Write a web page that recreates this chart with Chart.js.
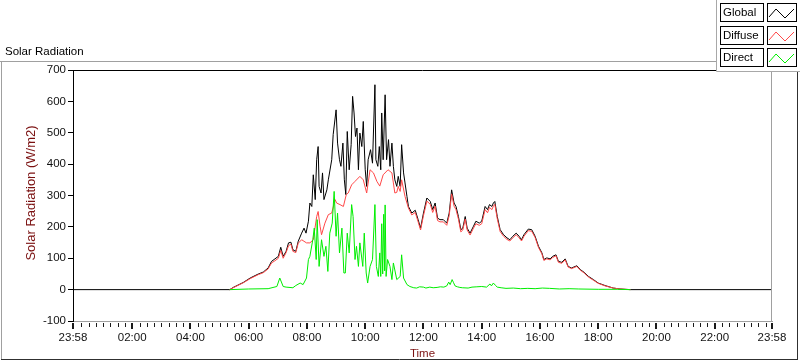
<!DOCTYPE html>
<html>
<head>
<meta charset="utf-8">
<script src="https://cdn.jsdelivr.net/npm/chart.js@4/dist/chart.umd.min.js"></script>
<style>
  body { margin: 0; background: #fff; }
  #wrap { position: relative; width: 800px; height: 361px; }
</style>
</head>
<body>
<div id="wrap"><canvas id="chart" width="800" height="361"></canvas></div>
<script>
// ── data: minutes after midnight, W/m2 ──
const seriesLabels = ['Global', 'Diffuse', 'Direct'];
const seriesColors = ['#000000', '#ff4848', '#00ee00'];

const globalTimes = [-2, 321, 328, 349, 363, 380, 390, 400, 407, 414, 421, 426, 431, 437, 442, 447, 451, 457, 462, 469,
  474, 478, 483, 486, 490, 493, 497, 500, 503, 505, 509, 512, 515, 521, 524, 531, 534, 538, 540, 543,
  547, 550, 554, 557, 560, 563, 567, 571, 574, 577, 580, 583, 586, 589, 593, 596, 600, 603, 606, 611,
  615, 620, 622, 626, 629, 632, 634, 637, 641, 644, 648, 651, 655, 658, 661, 665, 668, 672, 675, 679,
  682, 686, 689, 696, 703, 709, 714, 720, 727, 734, 739, 744, 749, 754, 761, 768, 773, 778, 783, 787,
  792, 797, 801, 806, 810, 816, 823, 828, 835, 840, 847, 852, 856, 861, 864, 867, 872, 878, 885, 892,
  898, 904, 911, 917, 922, 927, 936, 943, 950, 957, 964, 968, 974, 981, 986, 993, 998, 1005, 1012, 1018,
  1025, 1036, 1043, 1051, 1060, 1070, 1080, 1094, 1111, 1125, 1146, 1438];
const globalValues = [0, 0, 7, 23, 37, 50, 56, 69, 90, 98, 106, 135, 106, 122, 149, 151, 127, 122, 154, 180,
  196, 180, 218, 276, 265, 366, 287, 414, 456, 329, 308, 372, 287, 318, 350, 414, 494, 547, 573, 467,
  414, 393, 467, 350, 303, 504, 382, 462, 616, 563, 488, 515, 382, 499, 456, 536, 382, 329, 414, 446,
  403, 653, 414, 393, 456, 382, 563, 414, 621, 414, 478, 393, 467, 393, 350, 329, 361, 329, 462, 372,
  340, 297, 265, 244, 253, 223, 196, 244, 292, 281, 255, 276, 228, 223, 223, 212, 244, 318, 276, 265,
  233, 191, 196, 233, 196, 180, 202, 218, 212, 218, 265, 255, 271, 265, 276, 281, 233, 191, 175, 165,
  159, 170, 180, 170, 159, 175, 193, 191, 170, 138, 117, 96, 101, 98, 106, 111, 90, 87, 98, 74,
  69, 76, 64, 55, 42, 32, 21, 13, 5, 2, 0, 0];

const diffuseTimes = [321, 328, 349, 363, 380, 390, 400, 407, 414, 421, 426, 431, 437, 442, 447, 451, 457, 462, 469, 479,
  486, 493, 500, 503, 507, 510, 517, 524, 531, 538, 541, 548, 555, 561, 565, 572, 579, 589, 596, 603,
  610, 617, 624, 630, 637, 647, 651, 655, 658, 661, 665, 668, 672, 675, 682, 689, 696, 703, 709, 714,
  720, 727, 734, 739, 744, 749, 754, 761, 768, 773, 778, 783, 787, 792, 797, 801, 806, 810, 816, 823,
  828, 835, 840, 847, 852, 856, 861, 864, 867, 872, 878, 885, 892, 898, 904, 911, 917, 922, 927, 936,
  943, 950, 957, 964, 968, 974, 981, 986, 993, 998, 1005, 1012, 1018, 1025, 1036, 1043, 1051, 1060, 1070, 1080,
  1094, 1111, 1125, 1146];
const diffuseValues = [0, 6, 22, 35, 48, 54, 66, 85, 92, 100, 125, 100, 118, 140, 145, 122, 118, 148, 159, 149,
  149, 159, 233, 249, 202, 175, 212, 239, 244, 287, 276, 271, 265, 303, 308, 334, 345, 361, 350, 308,
  382, 372, 345, 330, 366, 382, 377, 372, 340, 308, 310, 329, 313, 350, 297, 260, 238, 246, 216, 190,
  236, 282, 272, 246, 266, 220, 216, 216, 205, 236, 305, 266, 255, 225, 184, 190, 225, 190, 174, 196,
  210, 205, 210, 255, 245, 262, 255, 266, 272, 226, 185, 170, 160, 155, 165, 175, 165, 155, 170, 188,
  186, 166, 134, 114, 93, 98, 95, 102, 108, 87, 84, 95, 72, 67, 74, 62, 53, 40, 30, 20,
  12, 5, 2, 0];

const directTimes = [321, 360, 400, 418, 424, 431, 437, 451, 457, 466, 472, 479, 483, 486, 492, 495, 499, 501, 505, 510,
  515, 519, 523, 527, 532, 536, 540, 543, 547, 552, 556, 559, 563, 567, 572, 575, 579, 582, 586, 589,
  595, 598, 602, 605, 610, 615, 620, 623, 627, 630, 632, 634, 636, 638, 640, 641, 643, 646, 651, 655,
  658, 665, 672, 675, 679, 686, 692, 700, 706, 712, 720, 725, 733, 740, 748, 755, 762, 768, 772, 775,
  779, 782, 785, 790, 795, 800, 812, 820, 830, 840, 850, 857, 860, 864, 868, 872, 880, 890, 905, 920,
  935, 950, 965, 980, 1000, 1020, 1040, 1080, 1120, 1146];
const directValues = [0, 2, 3, 10, 37, 10, 8, 6, 13, 21, 16, 37, 96, 106, 159, 196, 96, 223, 74, 159,
  106, 138, 58, 180, 212, 313, 170, 244, 117, 196, 53, 53, 180, 117, 271, 233, 96, 138, 74, 149,
  74, 180, 53, 21, 74, 96, 271, 74, 42, 117, 42, 210, 50, 240, 60, 270, 42, 96, 74, 32,
  85, 32, 42, 111, 37, 16, 10, 6, 5, 9, 8, 5, 8, 6, 7, 9, 8, 12, 24, 16,
  32, 22, 12, 9, 7, 6, 5, 8, 9, 10, 8, 18, 12, 21, 14, 8, 6, 4, 5, 3,
  4, 3, 5, 4, 2, 3, 2, 1, 1, 0];

const yTicks = { min: -100, max: 700, step: 100 };
const xRange = { min: -2, max: 1438 };           // 23:58 .. 23:58
const xMajorTicks = [-2, 120, 240, 360, 480, 600, 720, 840, 960, 1080, 1200, 1320, 1438];

const FONT = '"Liberation Sans", Arial, sans-serif';

function toPoints(times, values) {
    return times.map((t, i) => ({ x: t, y: values[i] }));
}

function hhmm(v) {
    const m = ((Math.round(v) % 1440) + 1440) % 1440;
    return String(Math.floor(m / 60)).padStart(2, '0') + ':' + String(m % 60).padStart(2, '0');
}

// frame, title, ticks, axis names, legend
const panelPlugin = {
    id: 'panel',
    beforeDraw(chart) {
        const ctx = chart.ctx;
        ctx.save();
        ctx.fillStyle = '#fff';
        ctx.fillRect(0, 0, chart.width, chart.height);
        ctx.lineWidth = 1;
        ctx.strokeStyle = '#a0a0a0';
        ctx.beginPath();
        ctx.moveTo(0, 61.5); ctx.lineTo(800, 61.5);
        ctx.moveTo(1.5, 61.5); ctx.lineTo(1.5, 360);
        ctx.stroke();
        ctx.strokeStyle = '#303030';
        ctx.beginPath();
        ctx.moveTo(1, 359.5); ctx.lineTo(798, 359.5);
        ctx.moveTo(797.5, 61.5); ctx.lineTo(797.5, 360);
        ctx.stroke();
        ctx.fillStyle = '#000';
        ctx.font = '11.5px ' + FONT;
        ctx.textAlign = 'left';
        ctx.textBaseline = 'alphabetic';
        ctx.fillText('Solar Radiation', 5, 55);
        ctx.restore();
    },
    afterDraw(chart) {
        const ctx = chart.ctx;
        const a = chart.chartArea;
        const xs = chart.scales.x;
        ctx.save();

        // top (black) and right (grey) plot borders
        ctx.lineWidth = 1;
        ctx.strokeStyle = '#000';
        ctx.beginPath(); ctx.moveTo(a.left, a.top + 0.5); ctx.lineTo(a.right, a.top + 0.5); ctx.stroke();
        ctx.strokeStyle = '#a0a0a0';
        ctx.beginPath(); ctx.moveTo(a.right - 0.5, a.top + 1); ctx.lineTo(a.right - 0.5, a.bottom); ctx.stroke();

        // x ticks: majors + 15 min minors
        ctx.fillStyle = '#1a1a1a';
        xMajorTicks.forEach(v => {
            const px = Math.round(xs.getPixelForValue(v));
            ctx.fillRect(px - 1, a.bottom + 2, 2, 6);
        });
        for (let m = 15; m < 1438; m += 15) {
            if (m % 120 === 0) continue;
            const px = Math.round(xs.getPixelForValue(m));
            ctx.fillRect(px, a.bottom + 2, 1, 4);
        }

        // axis names
        ctx.fillStyle = '#7a1010';
        ctx.textAlign = 'center';
        ctx.textBaseline = 'middle';
        ctx.font = '11.5px ' + FONT;
        ctx.fillText('Time', (a.left + a.right) / 2, 354);
        ctx.save();
        ctx.font = '13px ' + FONT;
        ctx.translate(31, 193);
        ctx.rotate(-Math.PI / 2);
        ctx.fillText('Solar Radiation (W/m2)', 0, 0);
        ctx.restore();

        // legend
        ctx.font = '11.5px ' + FONT;
        ctx.fillStyle = '#fff';
        ctx.fillRect(717, 0, 83, 71);
        ctx.strokeStyle = '#a8a8a8';
        ctx.beginPath();
        ctx.moveTo(716.5, 0); ctx.lineTo(716.5, 71.5); ctx.lineTo(800, 71.5);
        ctx.stroke();
        chart.data.datasets.forEach((ds, i) => {
            const y0 = Math.round(3 + i * 22.5);
            ctx.strokeStyle = '#000';
            ctx.lineWidth = 1;
            ctx.strokeRect(720.5, y0 + 0.5, 43, 18);
            ctx.strokeRect(767.5, y0 + 0.5, 29, 18);
            ctx.fillStyle = '#000';
            ctx.textAlign = 'left';
            ctx.textBaseline = 'middle';
            ctx.fillText(ds.label, 723, y0 + 10);
            ctx.strokeStyle = ds.borderColor;
            ctx.beginPath();
            ctx.moveTo(769, y0 + 14);
            ctx.lineTo(776, y0 + 6);
            ctx.lineTo(785, y0 + 15);
            ctx.lineTo(794, y0 + 6);
            ctx.stroke();
        });
        ctx.restore();
    }
};

const ctx = document.getElementById('chart');
new Chart(ctx, {
    type: 'line',
    data: {
        datasets: [
            { label: seriesLabels[0], data: toPoints(globalTimes, globalValues), borderColor: seriesColors[0], order: 3 },
            { label: seriesLabels[1], data: toPoints(diffuseTimes, diffuseValues), borderColor: seriesColors[1], order: 2 },
            { label: seriesLabels[2], data: toPoints(directTimes, directValues), borderColor: seriesColors[2], order: 1 }
        ]
    },
    options: {
        responsive: false,
        devicePixelRatio: 1,
        animation: false,
        events: [],
        datasets: { line: { borderWidth: 1, pointRadius: 0, tension: 0, fill: false } },
        layout: { padding: { left: 0, right: 28, top: 70, bottom: 0 } },
        plugins: { legend: { display: false }, tooltip: { enabled: false }, title: { display: false } },
        scales: {
            x: {
                type: 'linear',
                min: xRange.min,
                max: xRange.max,
                afterBuildTicks: s => { s.ticks = xMajorTicks.map(v => ({ value: v })); },
                afterFit: s => { s.height = 40; },
                grid: { display: false, drawTicks: false },
                border: { display: true, color: '#a0a0a0', width: 1 },
                ticks: {
                    autoSkip: false, maxRotation: 0, padding: 10,
                    color: '#111', font: { family: FONT, size: 11.5 },
                    callback: v => hhmm(v)
                }
            },
            y: {
                min: yTicks.min,
                max: yTicks.max,
                afterFit: s => { s.width = 73; },
                grid: { drawOnChartArea: false, drawTicks: true, tickLength: 5, color: '#000' },
                border: { display: true, color: '#000', width: 1 },
                ticks: {
                    stepSize: yTicks.step, padding: 2,
                    color: '#111', font: { family: FONT, size: 11.5 }
                }
            }
        }
    },
    plugins: [panelPlugin]
});
</script>
</body>
</html>
